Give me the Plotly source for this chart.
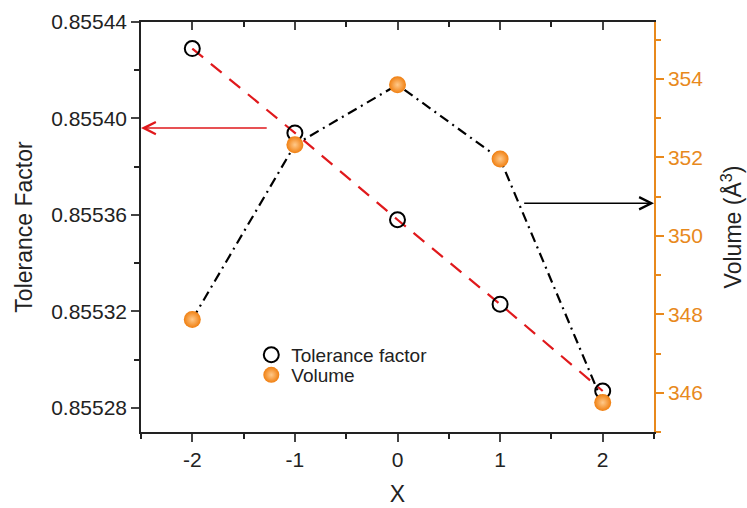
import plotly.graph_objects as go

x_vals = [-2, -1, 0, 1, 2]
tolerance = [0.855429, 0.855394, 0.855358, 0.855323, 0.855287]
volume = [347.87, 352.32, 353.85, 351.96, 345.75]
left_ticks = [0.85528, 0.85532, 0.85536, 0.85540, 0.85544]
right_ticks = [346, 348, 350, 352, 354]
x_ticks = [-2, -1, 0, 1, 2]
x_ticktext = ["-2", "-1", "0", "1", "2"]

ORANGE = "#E8891C"
FONT = "Liberation Sans, Arial, sans-serif"

fig = go.Figure()
fig.add_trace(go.Scatter(x=x_vals, y=tolerance, mode="lines",
                         line=dict(color="#E0191C", width=2.2, dash="14px,10px"),
                         showlegend=False, yaxis="y", hoverinfo="skip"))
fig.add_trace(go.Scatter(x=x_vals, y=tolerance, mode="markers", name="Tolerance factor",
                         marker=dict(symbol="circle-open", size=15, color="black",
                                     line=dict(width=2, color="black")),
                         yaxis="y", legend="legend"))
fig.add_trace(go.Scatter(x=x_vals, y=volume, mode="lines",
                         line=dict(color="black", width=2.2, dash="10px,5px,2px,5px"),
                         showlegend=False, yaxis="y2", hoverinfo="skip"))
fig.add_trace(go.Scatter(x=x_vals, y=volume, mode="markers", name="Volume",
                         marker=dict(symbol="circle", size=17, color="#F07F10",
                                     gradient=dict(type="radial", color="#FFC98A"),
                                     line=dict(width=0)),
                         yaxis="y2", legend="legend2"))
# invisible trace to activate top axis
fig.add_trace(go.Scatter(x=[x_vals[0]], y=[tolerance[0]], mode="markers",
                         marker=dict(opacity=0), showlegend=False, xaxis="x2",
                         hoverinfo="skip"))

fig.add_annotation(x=-2.5, y=0.855396, ax=-1.26, ay=0.855396, xref="x", yref="y",
                   axref="x", ayref="y", showarrow=True, arrowhead=5, arrowsize=1.6,
                   arrowwidth=1.5, arrowcolor="#E0191C", text="")
fig.add_annotation(x=2.5, y=350.83, ax=1.22, ay=350.83, xref="x", yref="y2",
                   axref="x", ayref="y2", showarrow=True, arrowhead=5, arrowsize=1.6,
                   arrowwidth=1.5, arrowcolor="black", text="")

legend_style = dict(xanchor="left", yanchor="middle", bgcolor="rgba(0,0,0,0)",
                    font=dict(size=19), itemsizing="trace")

fig.update_layout(
    width=747, height=508,
    margin=dict(l=141, r=93, t=22, b=76),
    paper_bgcolor="white", plot_bgcolor="white",
    font=dict(family=FONT, size=21, color="#222"),
    xaxis=dict(range=[-2.5, 2.5], tickvals=x_ticks, ticktext=x_ticktext,
               ticks="outside", ticklen=8, automargin=False,
               tickwidth=1.5, linecolor="#222", linewidth=1.5, showgrid=False,
               zeroline=False, showline=True,
               minor=dict(dtick=0.5, tick0=-2.5, ticks="outside", ticklen=5, tickwidth=1.5,
                          tickcolor="#222"),
               title=dict(text="X", font=dict(size=23), standoff=16),
               tickfont=dict(size=21)),
    xaxis2=dict(range=[-2.5, 2.5], overlaying="x", side="top", tickvals=x_ticks,
                ticks="inside", ticklen=8, tickwidth=1.5, showticklabels=False,
                linecolor="#222", linewidth=1.5, showline=True, showgrid=False,
                zeroline=False, automargin=False,
                minor=dict(dtick=0.5, tick0=-2.5, ticks="inside", ticklen=5, tickwidth=1.5,
                           tickcolor="#222")),
    yaxis=dict(range=[0.85527, 0.85544], tickvals=left_ticks,
               ticktext=[f"{v:.5f}" for v in left_ticks], ticks="outside", ticklen=8,
               tickwidth=1.5, linecolor="#222", linewidth=1.5, showline=True,
               showgrid=False, zeroline=False, tickfont=dict(size=21), automargin=False,
               minor=dict(dtick=0.00002, tick0=0.85528, ticks="outside", ticklen=5,
                          tickwidth=1.5, tickcolor="#222"),
               title=dict(text="Tolerance Factor", font=dict(size=23), standoff=12)),
    yaxis2=dict(range=[345.0, 355.45], overlaying="y", side="right", tickvals=right_ticks,
                ticks="outside", ticklen=8, tickwidth=1.5, tickcolor=ORANGE,
                linecolor=ORANGE, linewidth=1.5, showline=True, showgrid=False,
                zeroline=False, tickfont=dict(color=ORANGE, size=21), automargin=False,
                minor=dict(dtick=1, tick0=345, ticks="outside", ticklen=5, tickwidth=1.5,
                           tickcolor=ORANGE),
                title=dict(text="Volume (Å<sup>3</sup>)", font=dict(size=23, color="#222"),
                           standoff=23)),
    legend=dict(x=0.215, y=0.188, **legend_style),
    legend2=dict(x=0.215, y=0.139, **legend_style),
)

fig.write_html("out.html")
